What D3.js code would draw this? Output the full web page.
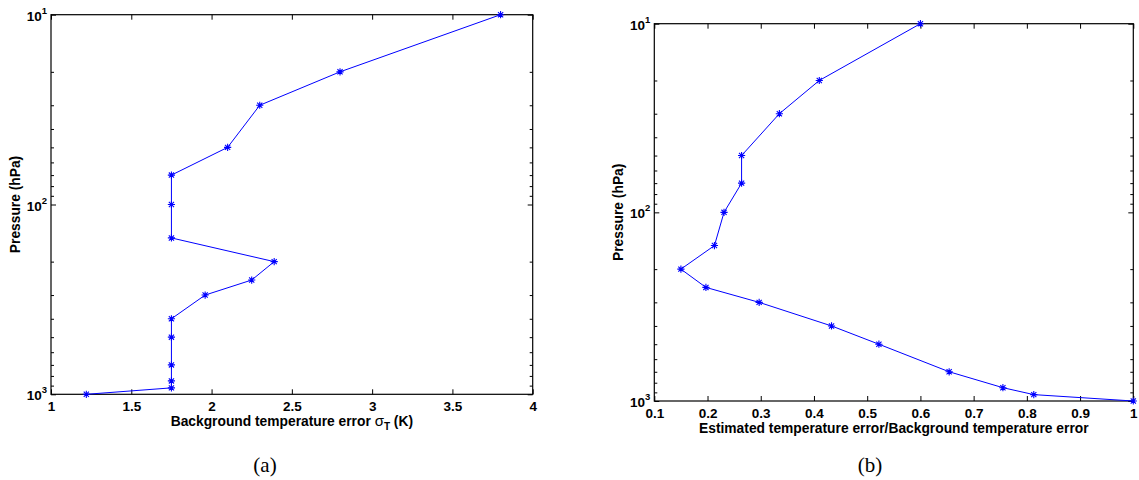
<!DOCTYPE html>
<html>
<head>
<meta charset="utf-8">
<script src="https://cdn.jsdelivr.net/npm/d3@7"></script>
<style>
  body { margin: 0; background: #fff; }
  svg { display: block; }
  .tick text { font-family: "Liberation Sans", Arial, sans-serif; font-weight: bold; font-size: 13.5px; fill: #000; }
  .title { font-family: "Liberation Sans", Arial, sans-serif; font-weight: bold; font-size: 13.8px; fill: #000; }
  .caption { font-family: "Liberation Serif", "DejaVu Serif", serif; font-size: 21px; fill: #000; }
</style>
</head>
<body>
<div id="chart"></div>
<script>
// pressure levels (hPa), shared by both panels
const pressure = [10, 20, 30, 50, 70, 100, 150, 200, 250, 300, 400, 500, 700, 850, 925, 1000];
// panel (a): background temperature error sigma_T (K)
const sigmaT = [3.80, 2.80, 2.30, 2.10, 1.75, 1.75, 1.75, 2.39, 2.25, 1.96, 1.75, 1.75, 1.75, 1.75, 1.75, 1.22];
// panel (b): estimated / background temperature error
const ratio = [0.60, 0.41, 0.335, 0.264, 0.264, 0.231, 0.213, 0.150, 0.197, 0.297, 0.433, 0.522, 0.654, 0.755, 0.813, 1.00];

const xTicksA = [1, 1.5, 2, 2.5, 3, 3.5, 4];
const xTicksB = [0.1, 0.2, 0.3, 0.4, 0.5, 0.6, 0.7, 0.8, 0.9, 1];
const yMajor = [10, 100, 1000];
const yMinor = [20, 30, 40, 50, 60, 70, 80, 90, 200, 300, 400, 500, 600, 700, 800, 900];

const W = 1139, H = 480;
const svg = d3.select('#chart').append('svg')
    .attr('width', W)
    .attr('height', H);

const panels = [
    {
        values: sigmaT, domain: [1, 4], xTicks: xTicksA,
        left: 51, right: 532.7, top: 14.7, bottom: 394.3,
        xFmt: d => String(d),
        ylabX: 20, xtitleY: 426, captionX: 265, caption: '(a)'
    },
    {
        values: ratio, domain: [0.1, 1], xTicks: xTicksB,
        left: 654.3, right: 1133.3, top: 23.7, bottom: 401,
        xFmt: d => d === 1 ? '1' : d3.format('.1f')(d),
        ylabX: 623, xtitleY: 432.5, captionX: 870, caption: '(b)'
    }
];

function asterisk(r) {
    const d = r * 0.72;
    return `M${-r},0H${r}M0,${-r}V${r}M${-d},${-d}L${d},${d}M${-d},${d}L${d},${-d}`;
}

panels.forEach((p, i) => {
    const x = d3.scaleLinear().domain(p.domain).range([p.left, p.right]);
    const y = d3.scaleLog().domain([10, 1000]).range([p.top, p.bottom]);
    const g = svg.append('g');

    // box
    g.append('rect')
        .attr('x', p.left).attr('y', p.top)
        .attr('width', p.right - p.left).attr('height', p.bottom - p.top)
        .attr('fill', 'none').attr('stroke', '#000').attr('stroke-width', 1.2);

    // bottom axis with labels, ticks pointing inward
    const bottom = g.append('g')
        .attr('transform', `translate(0,${p.bottom})`)
        .call(d3.axisBottom(x).tickValues(p.xTicks).tickSize(-5).tickPadding(7).tickFormat(p.xFmt));
    bottom.select('.domain').remove();
    bottom.selectAll('.tick line').attr('stroke', '#000');

    // top axis, ticks only
    const top = g.append('g')
        .attr('transform', `translate(0,${p.top})`)
        .call(d3.axisTop(x).tickValues(p.xTicks).tickSize(-5).tickFormat(''));
    top.select('.domain').remove();

    // left/right log axes, major + minor ticks inward
    [[d3.axisLeft, p.left], [d3.axisRight, p.right]].forEach(([ax, pos]) => {
        const major = g.append('g')
            .attr('transform', `translate(${pos},0)`)
            .call(ax(y).tickValues(yMajor).tickSize(-5).tickFormat(''));
        major.select('.domain').remove();
        const minor = g.append('g')
            .attr('transform', `translate(${pos},0)`)
            .call(ax(y).tickValues(yMinor).tickSize(-3).tickFormat(''));
        minor.select('.domain').remove();
    });

    // y tick labels 10^n
    const ylab = g.append('g').attr('class', 'tick');
    yMajor.forEach(v => {
        const t = ylab.append('text')
            .attr('x', p.left - 4)
            .attr('y', y(v) + 6)
            .attr('text-anchor', 'end');
        t.append('tspan').text('10');
        t.append('tspan')
            .attr('dy', -7)
            .attr('font-size', '9.5px')
            .text(String(Math.round(Math.log10(v))));
    });

    // line + markers
    const pts = p.values.map((v, k) => [x(v), y(pressure[k])]);
    g.append('path')
        .datum(pts)
        .attr('d', d3.line())
        .attr('fill', 'none')
        .attr('stroke', '#0000ff')
        .attr('stroke-width', 1);
    g.selectAll('.mark')
        .data(pts)
        .enter()
        .append('path')
        .attr('class', 'mark')
        .attr('transform', d => `translate(${d[0]},${d[1]})`)
        .attr('d', asterisk(3.6))
        .attr('fill', 'none')
        .attr('stroke', '#0000ff')
        .attr('stroke-width', 1.1);

    // axis titles
    g.append('text')
        .attr('class', 'title')
        .attr('transform', `translate(${p.ylabX},${(p.top + p.bottom) / 2}) rotate(-90)`)
        .attr('text-anchor', 'middle')
        .text('Pressure (hPa)');

    const xt = g.append('text')
        .attr('class', 'title')
        .attr('x', (p.left + p.right) / 2)
        .attr('y', p.xtitleY)
        .attr('text-anchor', 'middle');
    if (i === 0) {
        xt.append('tspan').text('Background temperature error ');
        xt.append('tspan').attr('font-weight', 'normal').attr('font-size', '15px').text('σ');
        xt.append('tspan').attr('font-size', '10px').attr('dy', 4).text('T');
        xt.append('tspan').attr('dy', -4).text(' (K)');
    } else {
        xt.text('Estimated temperature error/Background temperature error');
    }

    g.append('text')
        .attr('class', 'caption')
        .attr('x', p.captionX)
        .attr('y', 472)
        .attr('text-anchor', 'middle')
        .text(p.caption);
});
</script>
</body>
</html>
